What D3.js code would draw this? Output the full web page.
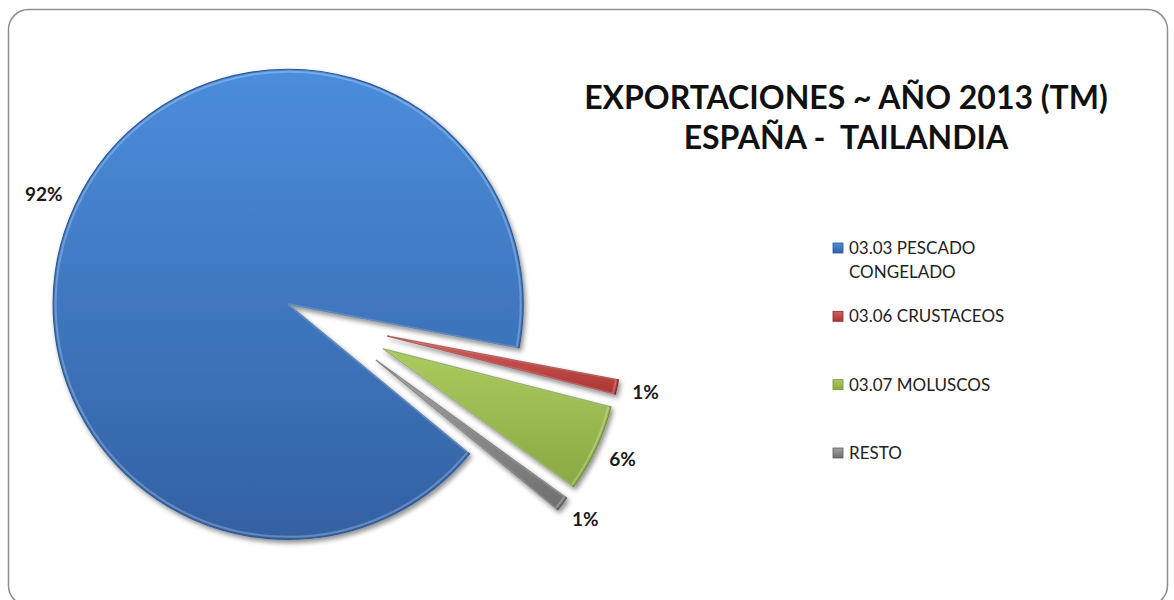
<!DOCTYPE html>
<html>
<head>
<meta charset="utf-8">
<script src="https://cdn.jsdelivr.net/npm/d3@7"></script>
<style>
  html, body { margin: 0; padding: 0; background: #fff; }
  svg { display: block; }
  text { font-family: Lato, "Open Sans", sans-serif; }
</style>
</head>
<body>
<div id="chart"></div>
<script>
// data
var categories = ["03.03 PESCADO CONGELADO", "03.06 CRUSTACEOS", "03.07 MOLUSCOS", "RESTO"];
var legendLines = [["03.03 PESCADO", "CONGELADO"], ["03.06 CRUSTACEOS"], ["03.07 MOLUSCOS"], ["RESTO"]];
var shares = [92, 1, 6, 1];
var titleLines = ["EXPORTACIONES ~ AÑO 2013 (TM)", "ESPAÑA -  TAILANDIA"];

var width = 1174, height = 600;
var center = {x: 328, y: 323},
  radius = 235,
  explodeFirst = 44,
  explodeRest = 61,
  labelGap = 16;

var colors = [
  {top: "#4b8ddc", bottom: "#3361a3", edge: "#2c5a96"},
  {top: "#d75d5a", bottom: "#a93633", edge: "#8e2c2a"},
  {top: "#abcb5e", bottom: "#8aa843", edge: "#71903a"},
  {top: "#a3a3a3", bottom: "#6e6e6e", edge: "#5c5c5c"}
];

var svg = d3.select("#chart").append("svg")
  .attr("width", width)
  .attr("height", height);

var defs = svg.append("defs");

// drop shadow
var shadow = defs.append("filter").attr("id", "shadow")
  .attr("x", "-20%").attr("y", "-20%").attr("width", "140%").attr("height", "140%");
shadow.append("feGaussianBlur").attr("in", "SourceAlpha").attr("stdDeviation", 2.5).attr("result", "blur");
shadow.append("feOffset").attr("in", "blur").attr("dx", 2).attr("dy", 3).attr("result", "off");
shadow.append("feComponentTransfer").attr("in", "off").attr("result", "offA")
  .append("feFuncA").attr("type", "linear").attr("slope", 0.45);
var merge = shadow.append("feMerge");
merge.append("feMergeNode").attr("in", "offA");
merge.append("feMergeNode").attr("in", "SourceGraphic");

colors.forEach(function (c, i) {
  var g = defs.append("linearGradient").attr("id", "grad" + i)
    .attr("x1", 0).attr("y1", 0).attr("x2", 0).attr("y2", 1);
  g.append("stop").attr("offset", "0%").attr("stop-color", c.top);
  g.append("stop").attr("offset", "100%").attr("stop-color", c.bottom);
});

// frame
svg.append("rect")
  .attr("x", 8.5).attr("y", 9.5)
  .attr("width", 1159).attr("height", 596)
  .attr("rx", 20).attr("ry", 20)
  .attr("fill", "#fff")
  .attr("stroke", "#8e8e8e")
  .attr("stroke-width", 1.5);

var pie = d3.pie()
  .sort(null)
  .startAngle(129.5 * Math.PI / 180)
  .endAngle(129.5 * Math.PI / 180 + 2 * Math.PI);

var arc = d3.arc().innerRadius(0).outerRadius(radius);
var labelArc = d3.arc().innerRadius(radius + labelGap).outerRadius(radius + labelGap);

var arcs = pie(shares);

function midAngle(d) {
  return (d.startAngle + d.endAngle) / 2;
}

function offset(d, i) {
  var a = midAngle(d);
  var e = i === 0 ? explodeFirst : explodeRest;
  return [center.x + Math.sin(a) * e, center.y - Math.cos(a) * e];
}

var slices = svg.append("g").selectAll("g.slice")
  .data(arcs)
  .enter().append("g")
  .attr("class", "slice")
  .attr("transform", function (d, i) {
    var o = offset(d, i);
    return "translate(" + o[0] + "," + o[1] + ")";
  });

slices.append("path")
  .attr("d", arc)
  .attr("fill", function (d, i) { return "url(#grad" + i + ")"; })
  .attr("stroke", function (d, i) { return colors[i].edge; })
  .attr("stroke-width", 1.2)
  .attr("stroke-linejoin", "round")
  .attr("filter", "url(#shadow)");

// soft inner highlight for the bevel look
slices.append("path")
  .attr("d", d3.arc().innerRadius(0).outerRadius(radius - 2.5))
  .attr("fill", "none")
  .attr("stroke", "#ffffff")
  .attr("stroke-opacity", 0.25)
  .attr("stroke-width", 2);

var pct = d3.format(".0%");
var total = d3.sum(shares);

// outside-end labels: the text box sits just beyond the arc
slices.append("text")
  .attr("text-anchor", "middle")
  .attr("dy", "0.35em")
  .attr("font-size", 19)
  .attr("font-weight", "bold")
  .attr("fill", "#1a1a1a")
  .text(function (d) { return pct(d.value / total); })
  .attr("transform", function (d) {
    var bb = this.getBBox();
    var a = midAngle(d);
    var c = labelArc.centroid(d);
    var x = c[0] + Math.sin(a) * bb.width / 2;
    var y = c[1] - Math.cos(a) * bb.height / 2 * 0.8;
    return "translate(" + x + "," + y + ")";
  });

// title
var title = svg.append("text")
  .attr("x", 846)
  .attr("y", 109)
  .attr("text-anchor", "middle")
  .attr("font-size", 32)
  .attr("font-weight", "bold")
  .attr("fill", "#111")
  .style("white-space", "pre");
title.selectAll("tspan")
  .data(titleLines)
  .enter().append("tspan")
  .attr("x", 846)
  .attr("dy", function (d, i) { return i === 0 ? 0 : 40; })
  .text(function (d) { return d; });

// legend
var legendY = d3.scalePoint().domain(categories).range([248, 453]);

var legend = svg.append("g").selectAll("g.item")
  .data(categories)
  .enter().append("g")
  .attr("class", "item")
  .attr("transform", function (d) { return "translate(833," + legendY(d) + ")"; });

legend.append("rect")
  .attr("x", 0).attr("y", -5)
  .attr("width", 10).attr("height", 10)
  .attr("fill", function (d, i) { return "url(#grad" + i + ")"; })
  .attr("stroke", function (d, i) { return colors[i].edge; })
  .attr("stroke-width", 0.8);

legend.append("text")
  .attr("x", 16)
  .attr("y", 0)
  .attr("font-size", 17)
  .attr("fill", "#222")
  .selectAll("tspan")
  .data(function (d, i) { return legendLines[i]; })
  .enter().append("tspan")
  .attr("x", 16)
  .attr("dy", function (d, i) { return i === 0 ? "0.35em" : "1.4em"; })
  .text(function (d) { return d; });
</script>
</body>
</html>
